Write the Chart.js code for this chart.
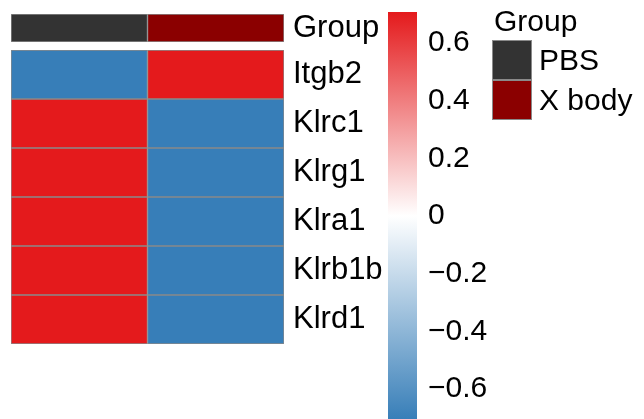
<!DOCTYPE html>
<html>
<head>
<meta charset="utf-8">
<script src="https://cdn.jsdelivr.net/npm/chart.js@4"></script>
<style>
  html, body { margin: 0; padding: 0; background: #fff; overflow: hidden; }
  body { width: 644px; height: 419px; position: relative; font-family: "Liberation Sans", Arial, sans-serif; }
  canvas { position: absolute; }
  .legend { position: absolute; left: 492px; top: 0; color: #000; }
  .legend .title { position: absolute; left: 2px; top: 4px; font-size: 30px; line-height: 34px; white-space: nowrap; }
  .legend .key { position: absolute; left: 0; width: 38px; height: 38px; border: 1px solid #8a8a8a; }
  .legend .lab { position: absolute; left: 47px; font-size: 30px; white-space: nowrap; line-height: 40px; }
</style>
</head>
<body>
<canvas id="annot" width="390" height="56" style="left:0;top:0"></canvas>
<canvas id="heat" width="390" height="314" style="left:0;top:40px"></canvas>
<canvas id="scale" width="120" height="432" style="left:388px;top:0"></canvas>
<div class="legend" id="legend"></div>
<script>
// Samples (columns) and their annotation group
const samples = ['PBS', 'X body'];
const groupNames = ['PBS', 'X body'];
const groupColors = ['#333333', '#8B0000'];

// Genes (rows), top to bottom
const genes = ['Itgb2', 'Klrc1', 'Klrg1', 'Klra1', 'Klrb1b', 'Klrd1'];

// Row-scaled expression, one array per sample column
const pbsValues   = [-0.7071, 0.7071, 0.7071, 0.7071, 0.7071, 0.7071];
const xbodyValues = [ 0.7071, -0.7071, -0.7071, -0.7071, -0.7071, -0.7071];

// Colour key ticks
const keyTicks = [-0.6, -0.4, -0.2, 0, 0.2, 0.4, 0.6];

const columns = [pbsValues, xbodyValues];
const allValues = columns.flat();
const vMax = Math.max(...allValues.map(Math.abs));
const vMin = -vMax;

const LOW = [55, 126, 184], MID = [255, 255, 255], HIGH = [228, 26, 28];
function mix(a, b, t) {
  return 'rgb(' + a.map((c, i) => Math.round(c + (b[i] - c) * t)).join(',') + ')';
}
function colorFor(v) {
  const t = Math.max(-1, Math.min(1, v / vMax));
  return t >= 0 ? mix(MID, HIGH, t) : mix(MID, LOW, -t);
}

Chart.defaults.font.family = '"Liberation Sans", Arial, sans-serif';
Chart.defaults.color = '#000';

const BORDER = '#8a8a8a';
const LABEL_FONT = { size: 31 };
const KEY_FONT = { size: 30 };

function fixedWidth(w) {
  return function (scale) {
    scale.width = w;
    scale.paddingTop = 0;
    scale.paddingBottom = 0;
  };
}

const commonOpts = {
  responsive: false,
  animation: false,
  devicePixelRatio: 1,
  indexAxis: 'y',
  plugins: { legend: { display: false }, tooltip: { enabled: false } },
  datasets: { bar: { barPercentage: 1, categoryPercentage: 1, borderSkipped: false } }
};

// Column annotation bar
new Chart(document.getElementById('annot'), {
  type: 'bar',
  data: {
    labels: ['Group'],
    datasets: samples.map((s, i) => ({
      label: s,
      data: [1],
      backgroundColor: groupColors[groupNames.indexOf(s)],
      borderColor: BORDER,
      borderWidth: 1
    }))
  },
  options: Object.assign({}, commonOpts, {
    layout: { padding: { left: 11, top: 14, bottom: 14, right: 0 } },
    scales: {
      x: { display: false, stacked: true, min: 0, max: samples.length },
      y: {
        position: 'right', stacked: true,
        grid: { display: false, drawTicks: false }, border: { display: false },
        ticks: { padding: 9, font: LABEL_FONT, autoSkip: false },
        afterFit: fixedWidth(106)
      }
    }
  })
});

// Heatmap body
new Chart(document.getElementById('heat'), {
  type: 'bar',
  data: {
    labels: genes,
    datasets: samples.map((s, i) => ({
      label: s,
      data: genes.map(() => 1),
      backgroundColor: columns[i].map(colorFor),
      borderColor: BORDER,
      borderWidth: 1
    }))
  },
  options: Object.assign({}, commonOpts, {
    layout: { padding: { left: 11, top: 10, bottom: 10, right: 0 } },
    scales: {
      x: { display: false, stacked: true, min: 0, max: samples.length },
      y: {
        position: 'right', stacked: true,
        grid: { display: false, drawTicks: false }, border: { display: false },
        ticks: { padding: 9, font: LABEL_FONT, autoSkip: false },
        afterFit: fixedWidth(106)
      }
    }
  })
});

// Colour key
function fmt(v) {
  if (Math.abs(v) < 1e-9) return '0';
  return (v < 0 ? '\u2212' : '') + Math.abs(v).toFixed(1);
}
new Chart(document.getElementById('scale'), {
  type: 'bar',
  data: {
    labels: ['key'],
    datasets: [{
      data: [[vMin, vMax]],
      borderWidth: 0,
      backgroundColor: (ctx) => {
        const chart = ctx.chart;
        if (!chart.chartArea) return '#fff';
        const y = chart.scales.y;
        const g = chart.ctx.createLinearGradient(0, y.getPixelForValue(vMin), 0, y.getPixelForValue(vMax));
        g.addColorStop(0, colorFor(vMin));
        g.addColorStop(0.5, colorFor(0));
        g.addColorStop(1, colorFor(vMax));
        return g;
      }
    }]
  },
  options: Object.assign({}, commonOpts, {
    indexAxis: 'x',
    layout: { padding: { left: 0, top: 12, bottom: 12, right: 0 } },
    scales: {
      x: { display: false },
      y: {
        position: 'right', min: vMin, max: vMax,
        grid: { display: false, drawTicks: false }, border: { display: false },
        afterBuildTicks: (scale) => { scale.ticks = keyTicks.map(v => ({ value: v })); },
        ticks: { padding: 11, font: KEY_FONT, callback: (v) => fmt(v) },
        afterFit: fixedWidth(91)
      }
    }
  })
});

// Group legend
const legend = document.getElementById('legend');
const title = document.createElement('div');
title.className = 'title';
title.textContent = 'Group';
legend.appendChild(title);
groupNames.forEach((g, i) => {
  const key = document.createElement('div');
  key.className = 'key';
  key.style.top = (40 + i * 40) + 'px';
  key.style.background = groupColors[i];
  legend.appendChild(key);
  const lab = document.createElement('div');
  lab.className = 'lab';
  lab.style.top = (40 + i * 40) + 'px';
  lab.textContent = g;
  legend.appendChild(lab);
});
</script>
</body>
</html>
